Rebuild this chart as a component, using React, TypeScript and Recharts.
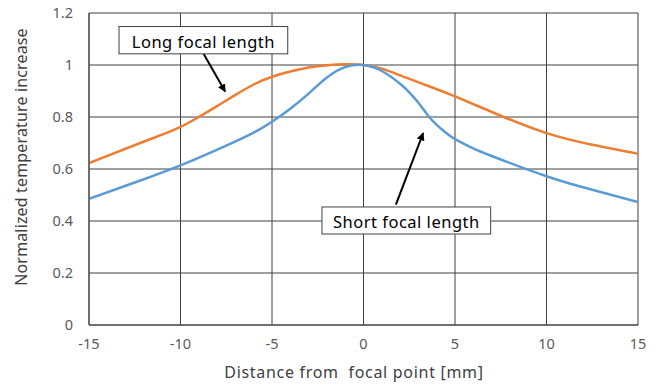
import { LineChart, Line, XAxis, YAxis, CartesianGrid } from 'recharts';

const xTicks = [-15, -10, -5, 0, 5, 10, 15];
const yTicks = [0, 0.2, 0.4, 0.6, 0.8, 1, 1.2];

const longX = [-15, -12.2, -11, -10, -9, -8, -7, -6, -5, -4, -3, -2, -1, 0, 1, 2, 3.4, 5, 7.6, 10, 12.5, 15];
const longY = [0.623, 0.7, 0.732, 0.762, 0.8, 0.842, 0.885, 0.925, 0.955, 0.975, 0.99, 0.999, 1.003, 1.0, 0.986, 0.96, 0.923, 0.879, 0.802, 0.738, 0.693, 0.659];

const shortX = [-15, -12.5, -10, -7.5, -6, -5, -4, -3, -2, -1, 0, 1, 2, 2.5, 3, 3.5, 4, 4.5, 5, 6, 7, 10, 12.5, 15];
const shortY = [0.485, 0.548, 0.614, 0.69, 0.74, 0.782, 0.832, 0.89, 0.952, 0.992, 1.0, 0.977, 0.928, 0.895, 0.855, 0.808, 0.77, 0.74, 0.715, 0.679, 0.65, 0.572, 0.52, 0.473];

const longData = longX.map((x, i) => ({ x, y: longY[i] }));
const shortData = shortX.map((x, i) => ({ x, y: shortY[i] }));

const W = 662;
const H = 388;
const M = { top: 13, right: 24, bottom: 28, left: 29 };
const Y_AXIS_W = 60;
const X_AXIS_H = 35;

// plot box, same numbers as the chart margins above
const plotL = M.left + Y_AXIS_W;
const plotR = W - M.right;
const plotT = M.top;
const plotB = H - M.bottom - X_AXIS_H;
const px = (x: number) => plotL + ((x + 15) / 30) * (plotR - plotL);
const py = (y: number) => plotB - (y / 1.2) * (plotB - plotT);

const FONT = '"Noto Sans", "Open Sans", sans-serif';

const Callout = ({ box, from, to, text }: { box: number[]; from: number[]; to: number[]; text: string }) => {
  const x1 = px(box[0]);
  const x2 = px(box[1]);
  const y1 = py(box[2]);
  const y2 = py(box[3]);
  return (
    <g>
      <line x1={px(from[0])} y1={py(from[1])} x2={px(to[0])} y2={py(to[1])} stroke="#000" strokeWidth={2} markerEnd="url(#arrow)" />
      <rect x={x1} y={y1} width={x2 - x1} height={y2 - y1} fill="#fff" stroke="#404040" strokeWidth={1} />
      <text x={(x1 + x2) / 2} y={(y1 + y2) / 2 + 1} textAnchor="middle" dominantBaseline="central" fontSize={16.5} letterSpacing={0.5} fill="#000" fontFamily={FONT}>
        {text}
      </text>
    </g>
  );
};

export default function App() {
  return (
    <div style={{ position: 'absolute', left: 0, top: 0, width: W, height: H, background: '#fff', fontFamily: FONT }}>
      <LineChart width={W} height={H} margin={M}>
        <CartesianGrid stroke="#404040" strokeWidth={1} horizontalValues={yTicks} verticalValues={xTicks} />
        <XAxis
          type="number"
          dataKey="x"
          domain={[-15, 15]}
          ticks={xTicks}
          height={X_AXIS_H}
          stroke="#404040"
          tickSize={0}
          tickMargin={14}
          tick={{ fill: '#595959', fontSize: 14.5, fontFamily: FONT }}
          allowDataOverflow
        />
        <YAxis
          type="number"
          domain={[0, 1.2]}
          ticks={yTicks}
          width={Y_AXIS_W}
          stroke="#404040"
          tickSize={0}
          tickMargin={16}
          tick={{ fill: '#595959', fontSize: 14.5, fontFamily: FONT }}
        />
        <Line data={longData} dataKey="y" type="natural" stroke="#ED7D31" strokeWidth={2.5} dot={false} isAnimationActive={false} />
        <Line data={shortData} dataKey="y" type="natural" stroke="#5B9BD5" strokeWidth={2.5} dot={false} isAnimationActive={false} />
      </LineChart>
      <svg width={W} height={H} style={{ position: 'absolute', left: 0, top: 0, pointerEvents: 'none' }}>
        <defs>
          <marker id="arrow" viewBox="0 0 10 10" refX="9" refY="5" markerWidth="4" markerHeight="4" orient="auto">
            <path d="M0,0 L10,5 L0,10 z" fill="#000" />
          </marker>
        </defs>
        <Callout box={[-13.36, -4.14, 1.148, 1.043]} from={[-8.74, 1.043]} to={[-7.56, 0.898]} text="Long focal length" />
        <Callout box={[-2.27, 6.95, 0.454, 0.35]} from={[1.77, 0.463]} to={[3.26, 0.738]} text="Short focal length" />
        <text x={354} y={378} textAnchor="middle" fontSize={16} letterSpacing={0.7} fill="#404040" fontFamily={FONT} style={{ whiteSpace: 'pre' }}>
          {'Distance from  focal point [mm]'}
        </text>
        <text x={27} y={157} transform="rotate(-90 27 157)" textAnchor="middle" fontSize={16} letterSpacing={0.15} fill="#404040" fontFamily={FONT}>
          Normalized temperature increase
        </text>
      </svg>
    </div>
  );
}
